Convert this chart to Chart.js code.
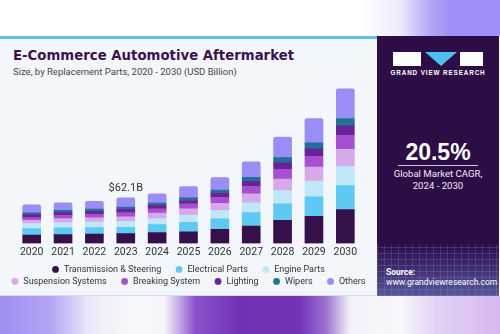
<!DOCTYPE html>
<html>
<head>
<meta charset="utf-8">
<script src="https://cdn.jsdelivr.net/npm/chart.js@4.4.1/dist/chart.umd.min.js"></script>
<style>
  html,body{margin:0;padding:0;}
  body{width:500px;height:334px;position:relative;overflow:hidden;background:#fff;font-family:Roboto,"Liberation Sans",Arial,sans-serif;}
  #topstrip{position:absolute;left:0;top:0;width:500px;height:36px;
    background:linear-gradient(to right,#fff 0%,#fff 72%,#eeebfc 80%,#b3a6f6 86%,#9f90f5 90%,#9f90f5 100%);}
  #botstrip{position:absolute;left:0;top:296px;width:500px;height:38px;
    background:linear-gradient(to right,#a08ef1 0%,#b2a4f3 10%,#eceafa 18%,#f7f8fb 26%,#f4f4fa 33%,#8c52cc 39%,#7231b4 48%,#7534b6 60%,#9a6fd0 65%,#f3f1f9 70%,#f8f8fb 80%,#e3d2f6 87%,#d6b8f1 100%);}
  #card{position:absolute;left:0;top:36px;width:377px;height:260px;background:#f3f7fb;border-top:3px solid #5cc1e5;box-sizing:border-box;border-bottom:1px solid #d8dde6;}
  #title{position:absolute;left:13px;top:48px;font-family:"DejaVu Sans",sans-serif;font-weight:bold;font-size:13.3px;color:#3a1250;white-space:nowrap;}
  #subtitle{position:absolute;left:13px;top:66px;font-size:9.5px;color:#454545;white-space:nowrap;}
  #panel{position:absolute;left:377px;top:36px;width:122px;height:260px;background:#2d0d45;overflow:hidden;}
  #grid{position:absolute;left:0;top:208px;width:122px;height:52px;
    background:
      repeating-linear-gradient(90deg,rgba(160,170,230,0.18) 0px,rgba(160,170,230,0.18) 1px,transparent 1px,transparent 7px),
      repeating-linear-gradient(0deg,rgba(160,170,230,0.18) 0px,rgba(160,170,230,0.18) 1px,transparent 1px,transparent 6px),
      linear-gradient(to bottom,#2d0d45 0%,#3e2c70 45%,#56579a 100%);}
  .wblock{position:absolute;background:#fff;}
  #tri{position:absolute;left:48px;top:16px;width:0;height:0;border-left:16px solid transparent;border-right:16px solid transparent;border-top:14px solid #4cc0ee;}
  #gvr{position:absolute;left:0;width:122px;top:33px;text-align:center;font-family:"Liberation Sans",Arial,sans-serif;font-weight:bold;font-size:6.3px;letter-spacing:0.9px;color:#fff;}
  #cagr{position:absolute;left:0;width:122px;top:103px;text-align:center;font-family:"Liberation Sans",Arial,sans-serif;font-weight:bold;font-size:23px;color:#fff;}
  #rule{position:absolute;left:21px;top:129px;width:80px;height:1px;background:#cfc6e0;}
  #cagrtxt{position:absolute;left:0;width:122px;top:132px;text-align:center;font-size:9.6px;line-height:11.5px;color:#f0ecf6;}
  #src{position:absolute;left:9px;top:231px;font-size:8.5px;line-height:10px;color:#fff;}
  #chartwrap{position:absolute;left:0;top:80px;width:377px;height:216px;}
</style>
</head>
<body>
<div id="topstrip"></div>
<div id="botstrip"></div>
<div id="card"></div>
<div id="title">E-Commerce Automotive Aftermarket</div>
<div id="subtitle">Size, by Replacement Parts, 2020 - 2030 (USD Billion)</div>
<div id="panel">
  <div id="grid"></div>
  <div class="wblock" style="left:16px;top:16px;width:28px;height:14px;"></div>
  <div id="tri"></div>
  <div class="wblock" style="left:83px;top:16px;width:23px;height:14px;"></div>
  <div id="gvr">GRAND VIEW RESEARCH</div>
  <div id="cagr">20.5%</div>
  <div id="rule"></div>
  <div id="cagrtxt">Global Market CAGR,<br>2024 - 2030</div>
  <div id="src"><b>Source:</b><br>www.grandviewresearch.com</div>
</div>
<div id="chartwrap"><canvas id="c" width="377" height="216"></canvas></div>
<script>
const years = ["2020","2021","2022","2023","2024","2025","2026","2027","2028","2029","2030"];
const transmission = [11.2, 12.2, 12.6, 13.3, 14.9, 15.7, 19.3, 23.8, 31.5, 36.9, 46.0];
const electrical   = [ 9.0,  8.9,  9.0,  8.8, 10.8, 13.1, 14.4, 18.1, 22.5, 26.6, 33.0];
const engine       = [ 6.8,  7.3,  7.6,  8.0,  8.1,  9.9, 11.2, 13.5, 18.0, 21.6, 26.0];
const suspension   = [ 4.5,  5.4,  5.8,  6.3,  7.6,  8.6,  9.9, 12.2, 15.8, 18.9, 23.5];
const breaking     = [ 3.6,  4.5,  4.8,  5.7,  5.9,  6.8,  8.1, 10.3, 13.0, 14.9, 19.0];
const lighting     = [ 4.0,  3.6,  3.8,  4.5,  4.5,  4.5,  5.4,  6.3,  9.0, 10.3, 13.0];
const wipers       = [ 2.7,  3.1,  3.1,  3.1,  3.1,  3.6,  4.6,  5.8,  7.2,  8.0, 10.0];
const others       = [10.8, 10.4, 10.8, 12.4, 12.7, 15.3, 17.0, 21.2, 28.0, 33.0, 40.5];
const seriesNames  = ["Transmission & Steering","Electrical Parts","Engine Parts","Suspension Systems","Breaking System","Lighting","Wipers","Others"];
const seriesColors = ["#35104a","#5ccaf2","#bfe7f8","#d6a9ea","#a64fd0","#6c2199","#1f7196","#9a8df8"];
const annotationIndex = 3;
const annotationText = "$62.1B";

const seriesData = [transmission, electrical, engine, suspension, breaking, lighting, wipers, others];

const legendRows = [[0,1,2],[3,4,5,6,7]];

const legendPlugin = {
  id: 'customLegend',
  afterDraw(chart) {
    const ctx = chart.ctx;
    const area = chart.chartArea;
    const cx = (area.left + area.right) / 2;
    ctx.save();
    ctx.font = '9px Roboto, "Liberation Sans", Arial, sans-serif';
    ctx.textBaseline = 'middle';
    ctx.textAlign = 'left';
    const rowY = [area.bottom + 26, area.bottom + 38];
    const r = 3.4, toText = 8.4, gap = 14.5;
    legendRows.forEach((row, ri) => {
      const widths = row.map(i => r + toText + ctx.measureText(chart.data.datasets[i].label).width);
      const total = widths.reduce((a,b)=>a+b,0) + gap*(row.length-1);
      let x = cx - total/2;
      row.forEach((i, k) => {
        const ds = chart.data.datasets[i];
        ctx.fillStyle = ds.backgroundColor;
        ctx.beginPath();
        ctx.arc(x + r, rowY[ri], r, 0, Math.PI*2);
        ctx.fill();
        ctx.fillStyle = '#333';
        ctx.fillText(ds.label, x + r + toText, rowY[ri] + 0.5);
        x += widths[k] + gap;
      });
    });
    ctx.restore();
  }
};

const labelPlugin = {
  id: 'valueLabel',
  afterDatasetsDraw(chart) {
    const last = chart.getDatasetMeta(chart.data.datasets.length - 1);
    const el = last.data[annotationIndex];
    const ctx = chart.ctx;
    ctx.save();
    ctx.font = '11px Roboto, "Liberation Sans", Arial, sans-serif';
    ctx.fillStyle = '#333';
    ctx.textAlign = 'center';
    ctx.textBaseline = 'middle';
    ctx.fillText(annotationText, el.x, el.y - 10);
    ctx.restore();
  }
};

new Chart(document.getElementById('c'), {
  type: 'bar',
  data: {
    labels: years,
    datasets: seriesData.map((d, i) => ({
      label: seriesNames[i],
      data: d,
      backgroundColor: seriesColors[i],
      borderWidth: 0,
      barThickness: 18,
      borderRadius: i === seriesData.length - 1 ? {topLeft: 2, topRight: 2} : 0,
      borderSkipped: false
    }))
  },
  options: {
    responsive: false,
    animation: false,
    devicePixelRatio: 1,
    layout: { padding: { left: 16, right: 16, top: 0, bottom: 34 } },
    plugins: {
      legend: { display: false },
      tooltip: { enabled: false },
      title: { display: false }
    },
    scales: {
      x: {
        stacked: true,
        grid: { display: false, drawTicks: false },
        border: { display: false },
        ticks: { color: '#333', padding: 3, font: { family: 'Roboto, "Liberation Sans", Arial, sans-serif', size: 10.5 } }
      },
      y: {
        stacked: true,
        display: false,
        min: 0,
        max: 223
      }
    }
  },
  plugins: [legendPlugin, labelPlugin]
});
</script>
</body>
</html>
